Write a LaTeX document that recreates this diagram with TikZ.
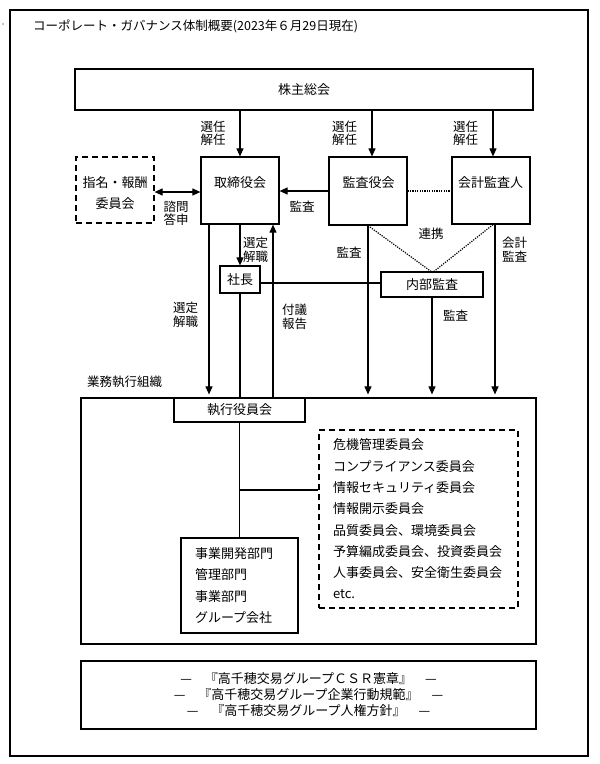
\documentclass[tikz,border=0pt]{standalone}
\usepackage{fontspec}
\newfontfamily\jp{Noto Sans CJK JP}
\usetikzlibrary{arrows.meta,calc}
\begin{document}
\begin{tikzpicture}[x=1pt,y=-1pt,
  font=\jp\fontsize{13}{15}\selectfont,
  box/.style={draw,line width=1.2pt,inner sep=0pt,align=center},
  dbox/.style={box,dash pattern=on 6pt off 4pt},
  txt/.style={inner sep=0pt,align=center},
  lbl/.style={inner sep=0pt,align=center,font=\jp\fontsize{12.5}{13.5}\selectfont},
  arr/.style={line width=1.1pt,-{Triangle[length=8pt,width=7pt]}},
  darr/.style={line width=1.1pt,{Triangle[length=8pt,width=7pt]}-{Triangle[length=8pt,width=7pt]}},
  ln/.style={line width=1.1pt},
  dotl/.style={line width=1.2pt,dash pattern=on 1.2pt off 1.2pt},
]
\useasboundingbox (0,0) rectangle (600,764);
\fill[white] (0,0) rectangle (600,764);
\draw[line width=1.5pt] (10,10) rectangle (588,756);
\fill (3,24) circle (0.7);

\node[txt,anchor=west,font=\jp\fontsize{12.5}{14}\selectfont] (title) at (33,26) {コーポレート・ガバナンス体制概要(2023年６月29日現在)};

% top level
\node[box,minimum width=458pt,minimum height=41pt] (sh) at (304,89.5) {株主総会};

\node[box,minimum width=78pt,minimum height=67pt] (tori) at (240,190.5) {};
\node[txt] (toriT) at (240,183) {取締役会};
\node[box,minimum width=78pt,minimum height=68pt] (kansa) at (368,191) {};
\node[txt] (kansaT) at (368.5,183) {監査役会};
\node[box,minimum width=78pt,minimum height=67pt] (kaikei) at (491,190.5) {};
\node[txt] (kaikeiT) at (490.5,183) {会計監査人};

\node[dbox,minimum width=78pt,minimum height=66pt] (shimei) at (115,190) {};
\node[txt,font=\jp\fontsize{13}{21}\selectfont] (shimeiT) at (115,193.5) {指名・報酬\\委員会};

\node[box,minimum width=102pt,minimum height=25pt] (naibu) at (432,284.5) {内部監査};
\node[box,minimum width=40pt,minimum height=27pt] (shacho) at (240,279.5) {社長};

% execution organisation
\node[box,minimum width=455pt,minimum height=246pt] (gyo) at (308.5,521) {};
\node[box,fill=white,minimum width=131pt,minimum height=24pt] (shikko) at (239.5,410) {執行役員会};

\node[box,minimum width=117pt,minimum height=95pt,text width=89pt,align=left,
      font=\jp\fontsize{13}{21.3}\selectfont] (jigyo) at (239.5,585.5)
  {事業開発部門\\管理部門\\事業部門\\グループ会社};

\node[dbox,minimum width=199pt,minimum height=178pt,text width=171pt,align=left,
      font=\jp\fontsize{13}{21.3}\selectfont] (iinkai) at (418.5,519)
  {危機管理委員会\\コンプライアンス委員会\\情報セキュリティ委員会\\情報開示委員会\\品質委員会、環境委員会\\予算編成委員会、投資委員会\\人事委員会、安全衛生委員会\\etc.};

\node[box,minimum width=455pt,minimum height=68pt,font=\jp\fontsize{13}{16}\selectfont] (code) at (308.5,695)
  {—　『高千穂交易グループＣＳＲ憲章』　—\\—　『高千穂交易グループ企業行動規範』　—\\—　『高千穂交易グループ人権方針』　—};

% labels
\node[lbl] (l1) at (213,133.5) {選任\\解任};
\node[lbl] (l2) at (344.5,133.5) {選任\\解任};
\node[lbl] (l3) at (465.5,133.5) {選任\\解任};
\node[lbl] (l4) at (176,213) {諮問\\答申};
\node[lbl] (l5) at (302,207) {監査};
\node[lbl] (l6) at (255.5,250) {選定\\解職};
\node[lbl] (l7) at (349,253) {監査};
\node[lbl] (l8) at (431,234) {連携};
\node[lbl] (l9) at (514.5,249.5) {会計\\監査};
\node[lbl] (l10) at (185.5,315) {選定\\解職};
\node[lbl] (l11) at (294.5,317) {付議\\報告};
\node[lbl] (l12) at (455.5,316) {監査};
\node[lbl] (l13) at (124.5,382) {業務執行組織};

% connectors
\draw[arr] (tori.north |- sh.south) -- (tori.north);
\draw[arr] ([xshift=4pt]kansa.north |- sh.south) -- ([xshift=4pt]kansa.north);
\draw[arr] ([xshift=2pt]kaikei.north |- sh.south) -- ([xshift=2pt]kaikei.north);

\draw[darr] ([yshift=-2pt]shimei.east) -- ([yshift=-2pt]shimei.east -| tori.west);
\draw[arr] (kansa.west) -- (kansa.west -| tori.east);
\draw[dotl] (kansa.east) -- (kansa.east -| kaikei.west);
\draw[dotl] (kansa.south) -- ([xshift=-1pt]naibu.north);
\draw[dotl] ([xshift=2pt]kaikei.south) -- ([xshift=2pt]naibu.north);

\draw[arr] (tori.south) -- (shacho.north);
\draw[ln] ([yshift=-3.5pt]shacho.east) -- ([yshift=-3.5pt]shacho.east -| naibu.west);
\draw[ln] (shacho.south) -- (shacho.south |- shikko.north);

\draw[arr,shorten >=3pt] ([xshift=-31pt]tori.south) -- ([xshift=-31pt]tori.south |- gyo.north);
\draw[arr] ([xshift=33pt]tori.south |- shikko.north) -- ([xshift=33pt]tori.south);

\draw[arr,shorten >=3pt] (kansa.south) -- (kansa.south |- gyo.north);
\draw[arr,shorten >=3pt] (naibu.south) -- (naibu.south |- gyo.north);
\draw[arr,shorten >=3pt] ([xshift=4pt]kaikei.south) -- ([xshift=4pt]kaikei.south |- gyo.north);

\draw[ln] (shikko.south) -- (jigyo.north);
\draw[ln] ([yshift=29pt]iinkai.west) -- ([yshift=29pt]iinkai.west -| shikko.south);
\end{tikzpicture}
\end{document}
